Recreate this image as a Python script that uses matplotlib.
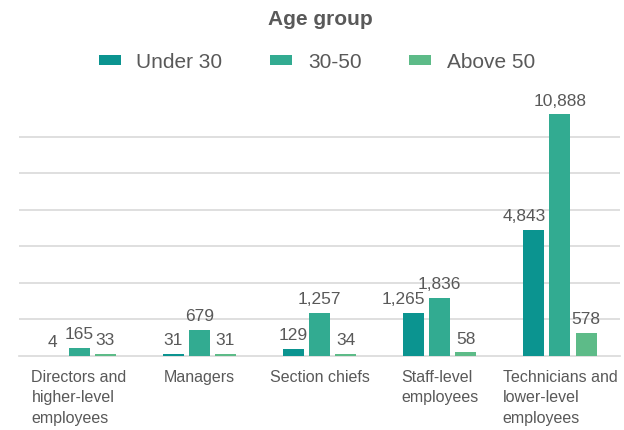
import numpy as np
import matplotlib.pyplot as plt

# data
categories = ["Directors and\nhigher-level\nemployees", "Managers", "Section chiefs",
              "Staff-level\nemployees", "Technicians and\nlower-level\nemployees"]
series_names = ["Under 30", "30-50", "Above 50"]
under_30 = [4, 31, 129, 1265, 4843]
age_30_50 = [165, 679, 1257, 1836, 10888]
above_50 = [33, 31, 34, 58, 578]

colors = ["#0b9490", "#32ab91", "#5dbb88"]
text_gray = "#595959"
grid_gray = "#d9d9d9"

plt.rcParams['font.family'] = ['Liberation Sans', 'DejaVu Sans']

fig = plt.figure(figsize=(6.24, 4.30), dpi=100)
ax = fig.add_axes([19 / 624, 74 / 430, 601 / 624, 256 / 430])

# the reference compresses tall bars, a power scale reproduces that
power = 0.8
def fwd(v):
    return np.power(np.clip(v, 0, None), power)
def inv(t):
    return np.power(np.clip(t, 0, None), 1 / power)

ax.set_yscale('function', functions=(fwd, inv))
y_top = 11700
ax.set_ylim(0, y_top)

x = np.arange(len(categories))
width = 0.175
offset = 0.218
for i, (name, vals) in enumerate(zip(series_names, [under_30, age_30_50, above_50])):
    bars = ax.bar(x + (i - 1) * offset, vals, width, color=colors[i], label=name, zorder=3)
    for b, v in zip(bars, vals):
        label = f"{v:,}"
        # wide labels on the first bar would run into the taller neighbour
        if i == 0 and len(label) > 3:
            xpos, ha = b.get_x() + b.get_width() + 0.01, 'right'
        else:
            xpos, ha = b.get_x() + b.get_width() / 2, 'center'
        ax.annotate(label, (xpos, v), xytext=(0, 4), textcoords='offset points',
                    ha=ha, va='bottom', fontsize=12.5, color=text_gray,
                    annotation_clip=False)

# evenly spaced gridlines (in screen space)
t_top = fwd(y_top)
ax.set_yticks(inv(t_top * np.arange(1, 7) / 7))
ax.yaxis.grid(True, color=grid_gray, linewidth=1.2, zorder=0)
ax.tick_params(axis='y', length=0, labelleft=False)

ax.set_xlim(-0.5, len(categories) - 0.5)
ax.set_xticks(x)
ax.set_xticklabels(categories, fontsize=11.5, color=text_gray,
                   multialignment='left', linespacing=1.45)
ax.tick_params(axis='x', length=0, pad=10)

for s in ['top', 'right', 'left']:
    ax.spines[s].set_visible(False)
ax.spines['bottom'].set_color(grid_gray)
ax.spines['bottom'].set_linewidth(1.2)

fig.text(0.513, 1 - 25 / 430, "Age group", ha='center', va='baseline',
         fontsize=15, fontweight='bold', color=text_gray)

leg = fig.legend(loc='center', bbox_to_anchor=(0.508, 1 - 62 / 430), ncol=3,
                 frameon=False, fontsize=15, handlelength=1.05, handleheight=0.3,
                 handletextpad=0.75, columnspacing=2.3)
for t in leg.get_texts():
    t.set_color(text_gray)

fig.savefig("out.png", dpi=100)
